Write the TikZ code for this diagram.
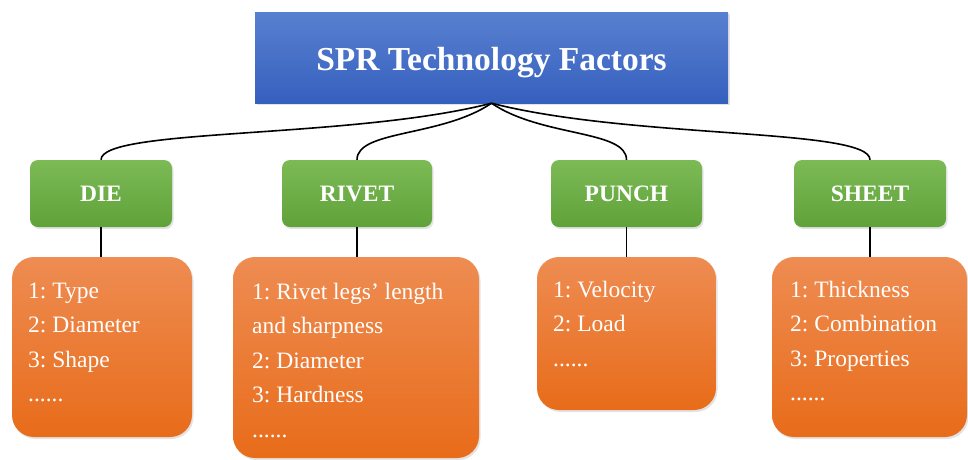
\documentclass[tikz,border=0pt]{standalone}
\usepackage{fontspec}
\setmainfont{Liberation Serif}
\usetikzlibrary{shadows}
\definecolor{blueT}{RGB}{88,128,208}
\definecolor{blueB}{RGB}{54,96,190}
\definecolor{greenT}{RGB}{124,186,86}
\definecolor{greenB}{RGB}{96,162,58}
\definecolor{orangeT}{RGB}{238,140,82}
\definecolor{orangeB}{RGB}{232,108,26}
\tikzset{
  shd/.style={drop shadow={opacity=0.22, shadow xshift=1.5pt, shadow yshift=-2pt}},
  titlebox/.style={shd, top color=blueT, bottom color=blueB, draw=none,
    minimum width=473pt, minimum height=91pt, inner sep=0pt,
    text=white, font=\fontsize{33.5}{40}\selectfont\bfseries,
    text height=25pt, text depth=0pt},
  catbox/.style={shd, top color=greenT, bottom color=greenB, draw=none,
    rounded corners=8pt, minimum height=67pt, inner sep=0pt,
    text=white, font=\fontsize{23.5}{28}\selectfont\bfseries,
    text height=16.4pt, text depth=0pt},
  listbox/.style={shd, top color=orangeT, bottom color=orangeB, draw=none,
    rounded corners=22pt, inner sep=0pt},
  listtext/.style={anchor=north west, inner sep=0pt, align=left, text=white,
    font=\fontsize{23.5}{34.5}\selectfont\frenchspacing},
  conn/.style={draw=black, line width=1.6pt}
}
\begin{document}
\frenchspacing
\begin{tikzpicture}[x=1pt,y=-1pt]
\useasboundingbox (0,0) rectangle (968,459);
% title
\node[titlebox] (top) at (491.5,57.5) {SPR Technology Factors};
% categories
\node[catbox, minimum width=142pt] (die) at (101,193.5) {DIE};
\node[catbox, minimum width=150pt] (rivet) at (357,193.5) {RIVET};
\node[catbox, minimum width=151pt] (punch) at (626.5,193.5) {PUNCH};
\node[catbox, minimum width=152pt] (sheet) at (870,193.5) {SHEET};
% lists
\node[listbox, minimum width=180pt, minimum height=180pt] (dieL) at (102,347) {};
\node[listbox, minimum width=246pt, minimum height=201pt] (rivetL) at (356,357.5) {};
\node[listbox, minimum width=179pt, minimum height=153pt] (punchL) at (626.5,333.5) {};
\node[listbox, minimum width=195pt, minimum height=180pt] (sheetL) at (869.5,347) {};
\node[listtext] (dieT) at (28,273.85) {\strut 1: Type\\\strut 2: Diameter\\\strut 3: Shape\\\strut ......};
\node[listtext] (rivetT) at (252,274.85) {\strut 1: Rivet legs’ length\\\strut and sharpness\\\strut 2: Diameter\\\strut 3: Hardness\\\strut ......};
\node[listtext] (punchT) at (553,272.85) {\strut 1: Velocity\\\strut 2: Load\\\strut ......};
\node[listtext] (sheetT) at (790,272.85) {\strut 1: Thickness\\\strut 2: Combination\\\strut 3: Properties\\\strut ......};
% connectors
\draw[conn] (top.south) .. controls +(-140,36) and +(0,-32) .. (die.north);
\draw[conn] (top.south) .. controls +(-50,34) and +(0,-30) .. (rivet.north);
\draw[conn] (top.south) .. controls +(50,34) and +(0,-30) .. (punch.north);
\draw[conn] (top.south) .. controls +(140,36) and +(0,-32) .. (sheet.north);
\draw[conn] (die.south) -- (die.south |- dieL.north);
\draw[conn] (rivet.south) -- (rivet.south |- rivetL.north);
\draw[conn] (punch.south) -- (punch.south |- punchL.north);
\draw[conn] (sheet.south) -- (sheet.south |- sheetL.north);
\end{tikzpicture}
\end{document}
